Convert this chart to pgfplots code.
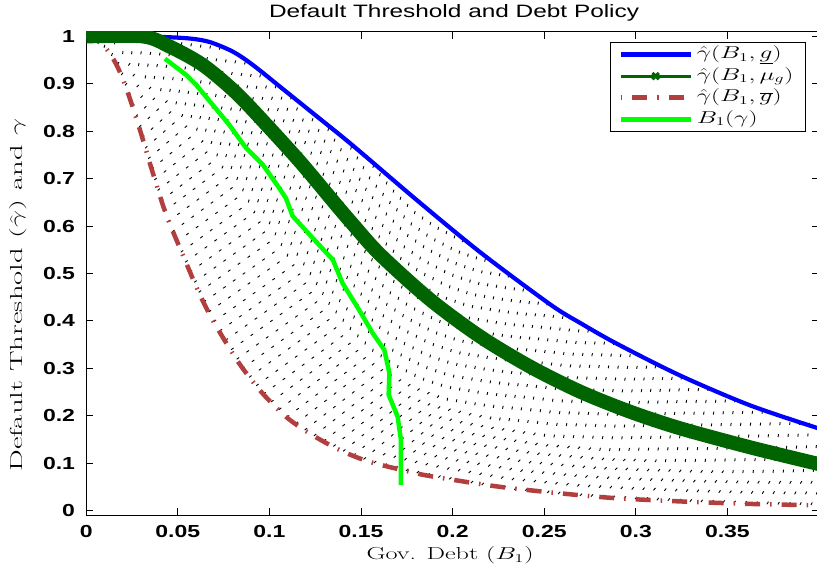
\documentclass[border=0pt]{standalone}
\usepackage{fontspec}
\usepackage{graphicx}
\usepackage{pgfplots}
\pgfplotsset{compat=1.18}
\newfontfamily\helv{Liberation Sans}
\definecolor{myblue}{RGB}{0,0,255}
\definecolor{mydkgreen}{RGB}{0,100,0}
\definecolor{myred}{RGB}{178,62,62}
\definecolor{mygreen}{RGB}{0,255,0}
\pgfplotsset{meshline/.style={black, line width=0.9bp, dash pattern=on 3bp off 9bp, line cap=butt},
  linelegend/.style={legend image code/.code={\draw[##1] (0bp,0bp) -- (70bp,0bp);}},
  marklegend/.style={legend image code/.code={\draw[mark repeat=2,mark phase=2,##1] plot coordinates {(0bp,0bp) (35bp,0bp) (70bp,0bp)};}}}
\newcommand\ml[1]{\addplot[meshline] coordinates {#1};}
\begin{document}
\begin{tikzpicture}
% ---- dotted family of curves (pixel-unit overlay: X = 1832 x, Y = 474.1 y) ----
\begin{axis}[at={(86.2bp,53.7bp)}, anchor=south west, scale only axis,
  width=732.8bp, height=483.6bp, xmin=0, xmax=732.8, ymin=-4.741, ymax=478.841,
  hide axis, clip=true]
\ml{(17.8,462.8)(18.8,466.2)(19.4,474.1)}
\ml{(25.2,454.7)(27.7,460.5)(29.0,474.1)}
\ml{(31.3,445.8)(36.1,454.3)(38.7,474.1)}
\ml{(35.0,435.4)(43.7,447.0)(48.4,474.1)}
\ml{(38.8,425.1)(51.3,439.8)(58.1,474.0)}
\ml{(42.4,414.7)(58.9,432.4)(67.8,473.7)}
\ml{(45.9,404.3)(66.4,425.1)(77.4,473.5)}
\ml{(49.3,393.9)(73.9,417.7)(87.1,473.1)}
\ml{(52.8,383.4)(81.3,410.0)(96.7,472.1)}
\ml{(55.9,372.9)(88.7,402.4)(106.4,471.2)}
\ml{(58.9,362.3)(96.0,394.7)(116.0,470.2)}
\ml{(62.0,351.8)(103.2,386.8)(125.4,468.5)}
\ml{(65.0,341.2)(109.8,378.0)(133.9,463.8)}
\ml{(68.2,330.6)(116.4,369.2)(142.3,459.1)}
\ml{(71.4,320.1)(123.0,360.4)(150.8,454.4)}
\ml{(74.6,309.6)(129.7,351.5)(159.3,449.4)}
\ml{(77.9,299.1)(136.2,342.8)(167.6,444.8)}
\ml{(81.5,288.7)(142.4,333.7)(175.2,438.8)}
\ml{(85.9,278.7)(148.8,324.9)(182.7,432.7)}
\ml{(90.3,268.5)(155.3,315.9)(190.3,426.6)}
\ml{(94.6,258.4)(161.7,307.0)(197.9,420.5)}
\ml{(99.0,248.3)(168.2,298.2)(205.4,414.5)}
\ml{(103.5,238.3)(174.7,289.3)(213.0,408.4)}
\ml{(108.0,228.2)(181.1,280.5)(220.5,402.4)}
\ml{(112.5,218.2)(187.6,271.6)(228.1,396.3)}
\ml{(117.4,208.4)(194.3,263.0)(235.7,390.3)}
\ml{(122.4,198.5)(200.9,254.2)(243.2,384.3)}
\ml{(127.5,188.8)(207.7,245.7)(250.9,378.3)}
\ml{(133.4,179.5)(214.7,237.4)(258.5,372.4)}
\ml{(139.2,170.2)(221.7,229.1)(266.1,366.4)}
\ml{(144.9,160.8)(228.5,220.6)(273.5,360.0)}
\ml{(150.5,151.3)(235.1,212.0)(280.7,353.7)}
\ml{(155.9,141.8)(241.8,203.5)(288.1,347.4)}
\ml{(162.9,133.2)(249.0,195.5)(295.4,341.0)}
\ml{(170.0,124.8)(256.3,187.7)(302.7,334.6)}
\ml{(177.1,116.4)(263.6,180.0)(310.1,328.3)}
\ml{(184.9,108.6)(271.0,172.6)(317.3,322.0)}
\ml{(192.7,100.9)(278.4,165.3)(324.6,315.7)}
\ml{(200.6,93.3)(286.0,158.1)(332.0,309.3)}
\ml{(209.6,86.9)(294.1,151.8)(339.6,303.3)}
\ml{(218.5,80.5)(302.2,145.5)(347.2,297.2)}
\ml{(227.8,74.7)(310.3,139.7)(354.7,291.2)}
\ml{(237.5,69.4)(318.6,134.1)(362.3,285.2)}
\ml{(247.1,64.1)(326.9,128.6)(369.9,279.2)}
\ml{(256.9,59.2)(335.2,123.4)(377.4,273.2)}
\ml{(267.1,55.1)(343.7,118.7)(385.0,267.1)}
\ml{(277.3,51.1)(352.2,114.1)(392.5,261.1)}
\ml{(287.7,47.6)(360.8,109.9)(400.1,255.1)}
\ml{(298.4,45.0)(369.4,106.2)(407.7,249.1)}
\ml{(309.1,42.4)(378.1,102.6)(415.3,243.1)}
\ml{(319.8,39.7)(386.8,98.9)(422.9,237.1)}
\ml{(330.5,37.4)(395.6,95.5)(430.6,231.1)}
\ml{(341.3,35.1)(404.3,92.1)(438.2,225.1)}
\ml{(352.1,33.0)(413.0,88.8)(445.8,219.1)}
\ml{(363.0,31.2)(421.8,85.8)(453.4,213.1)}
\ml{(373.8,29.3)(430.5,82.6)(461.0,207.1)}
\ml{(384.6,27.4)(439.5,79.7)(469.0,201.8)}
\ml{(395.5,25.5)(448.7,77.0)(477.4,197.0)}
\ml{(406.3,23.6)(458.0,74.2)(485.8,192.2)}
\ml{(417.2,22.0)(467.3,71.6)(494.2,187.3)}
\ml{(428.1,20.9)(476.5,69.4)(502.6,182.5)}
\ml{(439.1,19.8)(485.8,67.2)(510.9,177.7)}
\ml{(450.0,18.7)(495.0,65.0)(519.3,172.9)}
\ml{(461.0,17.6)(504.4,62.7)(527.7,168.0)}
\ml{(471.9,16.5)(513.7,60.5)(536.2,163.2)}
\ml{(482.9,15.4)(523.0,58.3)(544.6,158.5)}
\ml{(493.8,14.7)(532.3,56.4)(553.0,153.8)}
\ml{(504.8,14.0)(541.6,54.5)(561.4,149.0)}
\ml{(515.8,13.3)(551.0,53.5)(569.9,147.3)}
\ml{(526.8,12.5)(560.3,51.5)(578.4,142.5)}
\ml{(537.8,11.9)(569.7,49.7)(586.8,137.8)}
\ml{(548.8,11.4)(579.0,47.9)(595.2,133.1)}
\ml{(559.8,10.9)(588.5,46.5)(604.0,129.8)}
\ml{(570.7,10.3)(598.3,45.0)(613.1,126.1)}
\ml{(581.7,9.8)(608.0,43.6)(622.1,122.6)}
\ml{(592.7,9.2)(617.7,42.1)(631.1,118.9)}
\ml{(603.7,8.8)(627.3,40.7)(640.0,115.4)}
\ml{(614.7,8.4)(637.0,39.4)(649.0,111.8)}
\ml{(625.7,8.0)(646.7,38.0)(658.0,108.2)}
\ml{(636.7,7.6)(656.5,36.7)(667.2,104.9)}
\ml{(647.7,7.2)(666.5,35.6)(676.6,102.0)}
\ml{(658.7,6.8)(676.2,34.5)(685.7,99.2)}
\ml{(669.7,6.5)(686.2,33.4)(695.1,96.4)}
\ml{(680.7,6.3)(696.2,32.5)(704.5,93.6)}
\ml{(691.7,6.0)(706.1,31.4)(713.8,90.6)}
\ml{(702.7,5.8)(716.0,30.3)(723.2,87.6)}
\ml{(713.7,5.6)(725.9,29.4)(732.5,84.6)}
\ml{(724.7,5.4)(735.9,28.4)(741.9,82.0)}
\end{axis}
% ---- main axis ----
\begin{axis}[at={(86.2bp,53.7bp)}, anchor=south west, scale only axis,
  width=732.8bp, height=483.6bp,
  xmin=0, xmax=0.4, ymin=-0.01, ymax=1.01,
  xtick={0,0.05,0.1,0.15,0.2,0.25,0.3,0.35},
  ytick={0,0.1,0.2,0.3,0.4,0.5,0.6,0.7,0.8,0.9,1},
  scaled ticks=false,
  tick align=inside, major tick length=7bp,
  axis line style={line width=1.1bp},
  every tick/.style={black, line width=1bp},
  xticklabel={\scalebox{1.32}[1]{\helv\bfseries\fontsize{17.5}{20}\selectfont\pgfmathprintnumber[fixed,precision=2,assume math mode=true]{\tick}}},
  yticklabel={\scalebox{1.32}[1]{\helv\bfseries\fontsize{17.5}{20}\selectfont\pgfmathprintnumber[fixed,precision=2,assume math mode=true]{\tick}}},
  xticklabel style={anchor=base, yshift=-21.7bp, inner sep=0pt},
  yticklabel style={anchor=east, xshift=-11bp, inner sep=0pt},
  title={\scalebox{1.36}[1]{\helv\fontsize{18}{21}\selectfont Default Threshold and Debt Policy}},
  title style={at={(rel axis cs:0.502,1.017)}, anchor=base, inner sep=0pt},
  xlabel={\fontsize{17.5}{20}\selectfont\scalebox{1.5}[1]{Gov. Debt ($B_1$)}},
  xlabel style={at={(rel axis cs:0.4965,-0.0924)}, anchor=base, inner sep=0pt},
  ylabel={\fontsize{17.5}{20}\selectfont\scalebox{1.76}[1]{Default Threshold ($\hat{\gamma}$) and $\gamma$}},
  ylabel style={at={(rel axis cs:-0.0876,0.455)}, anchor=base, inner sep=0pt},
  legend style={at={(axis cs:0.3929,0.9885)}, anchor=north east,
    draw=black, line width=1.2bp, fill=white, inner xsep=8bp, inner ysep=3bp,
    font=\fontsize{18.5}{21}\selectfont, row sep=3.6bp,
    nodes={inner xsep=4bp, inner ysep=1bp, text height=12bp, text depth=4bp}},
  legend cell align=left,
]
\addlegendimage{myblue, line width=4.2bp, linelegend}
\addlegendentry{\scalebox{1.48}[1]{$\hat{\gamma}(B_1,\underline{g})$}}
\addlegendimage{mydkgreen, line width=3bp, mark=x, mark size=4.5bp, mark options={line width=3bp, solid}, marklegend}
\addlegendentry{\scalebox{1.48}[1]{$\hat{\gamma}(B_1,\mu_g)$}}
\addlegendimage{myred, line width=4.5bp, dash pattern=on 15bp off 10bp on 1.5bp off 10bp, dash phase=25bp, linelegend}
\addlegendentry{\scalebox{1.48}[1]{$\hat{\gamma}(B_1,\overline{g})$}}
\addlegendimage{mygreen, line width=4.5bp, linelegend}
\addlegendentry{\scalebox{1.48}[1]{$B_1(\gamma)$}}
% red: gamma-hat at high g
\addplot[myred, line width=4.5bp, smooth, dash pattern=on 15bp off 10bp on 1.5bp off 10bp, forget plot] coordinates {
(0,1.0) (0.0053,0.993) (0.0108,0.975) (0.0163,0.942) (0.0217,0.893) (0.029,0.807) (0.0363,0.713)
(0.0436,0.625) (0.0545,0.523) (0.0617,0.458) (0.069,0.402) (0.0781,0.343) (0.0854,0.300)
(0.0963,0.247) (0.109,0.198) (0.1218,0.163) (0.1382,0.128) (0.1545,0.103) (0.1764,0.082)
(0.1895,0.0715) (0.2259,0.050) (0.2623,0.035) (0.2896,0.026) (0.326,0.019) (0.3623,0.014) (0.4,0.011)};
% blue: gamma-hat at low g
\addplot[myblue, line width=4.2bp, smooth, forget plot] coordinates {
(0,1) (0.03,1.0) (0.047,0.998) (0.058,0.995) (0.0676,0.988) (0.08,0.968) (0.0909,0.94) (0.109,0.884)
(0.127,0.828) (0.1455,0.770) (0.1804,0.655) (0.215,0.545) (0.2532,0.435) (0.2695,0.396)
(0.2896,0.352) (0.3241,0.285) (0.3623,0.222) (0.4,0.173)};
% dark green: gamma-hat at mean g
\addplot[mydkgreen, line width=14bp, smooth, forget plot] coordinates {
(0,1) (0.031,1.0) (0.0454,0.979) (0.0636,0.94) (0.0818,0.881) (0.1,0.807) (0.118,0.73)
(0.1364,0.645) (0.1455,0.604) (0.1604,0.540) (0.1877,0.445) (0.215,0.367) (0.2423,0.3035)
(0.2695,0.251) (0.2968,0.2086) (0.3241,0.1736) (0.3623,0.1335) (0.4,0.098)};
% bright green: debt policy
\addplot[mygreen, line width=4.5bp, line join=round, forget plot] coordinates {
(0.043,0.953) (0.0545,0.919) (0.06,0.898) (0.069,0.856) (0.078,0.814) (0.0872,0.765)
(0.0963,0.73) (0.1054,0.68) (0.109,0.659) (0.1127,0.621) (0.1236,0.575) (0.1346,0.529)
(0.14,0.479) (0.149,0.423) (0.1564,0.374) (0.1627,0.339) (0.1655,0.29) (0.1651,0.244)
(0.17,0.198) (0.1718,0.149) (0.1718,0.054)};
\end{axis}
\pgfresetboundingbox
\path[use as bounding box] (0bp,0bp) rectangle (817bp,569bp);
\end{tikzpicture}
\end{document}
